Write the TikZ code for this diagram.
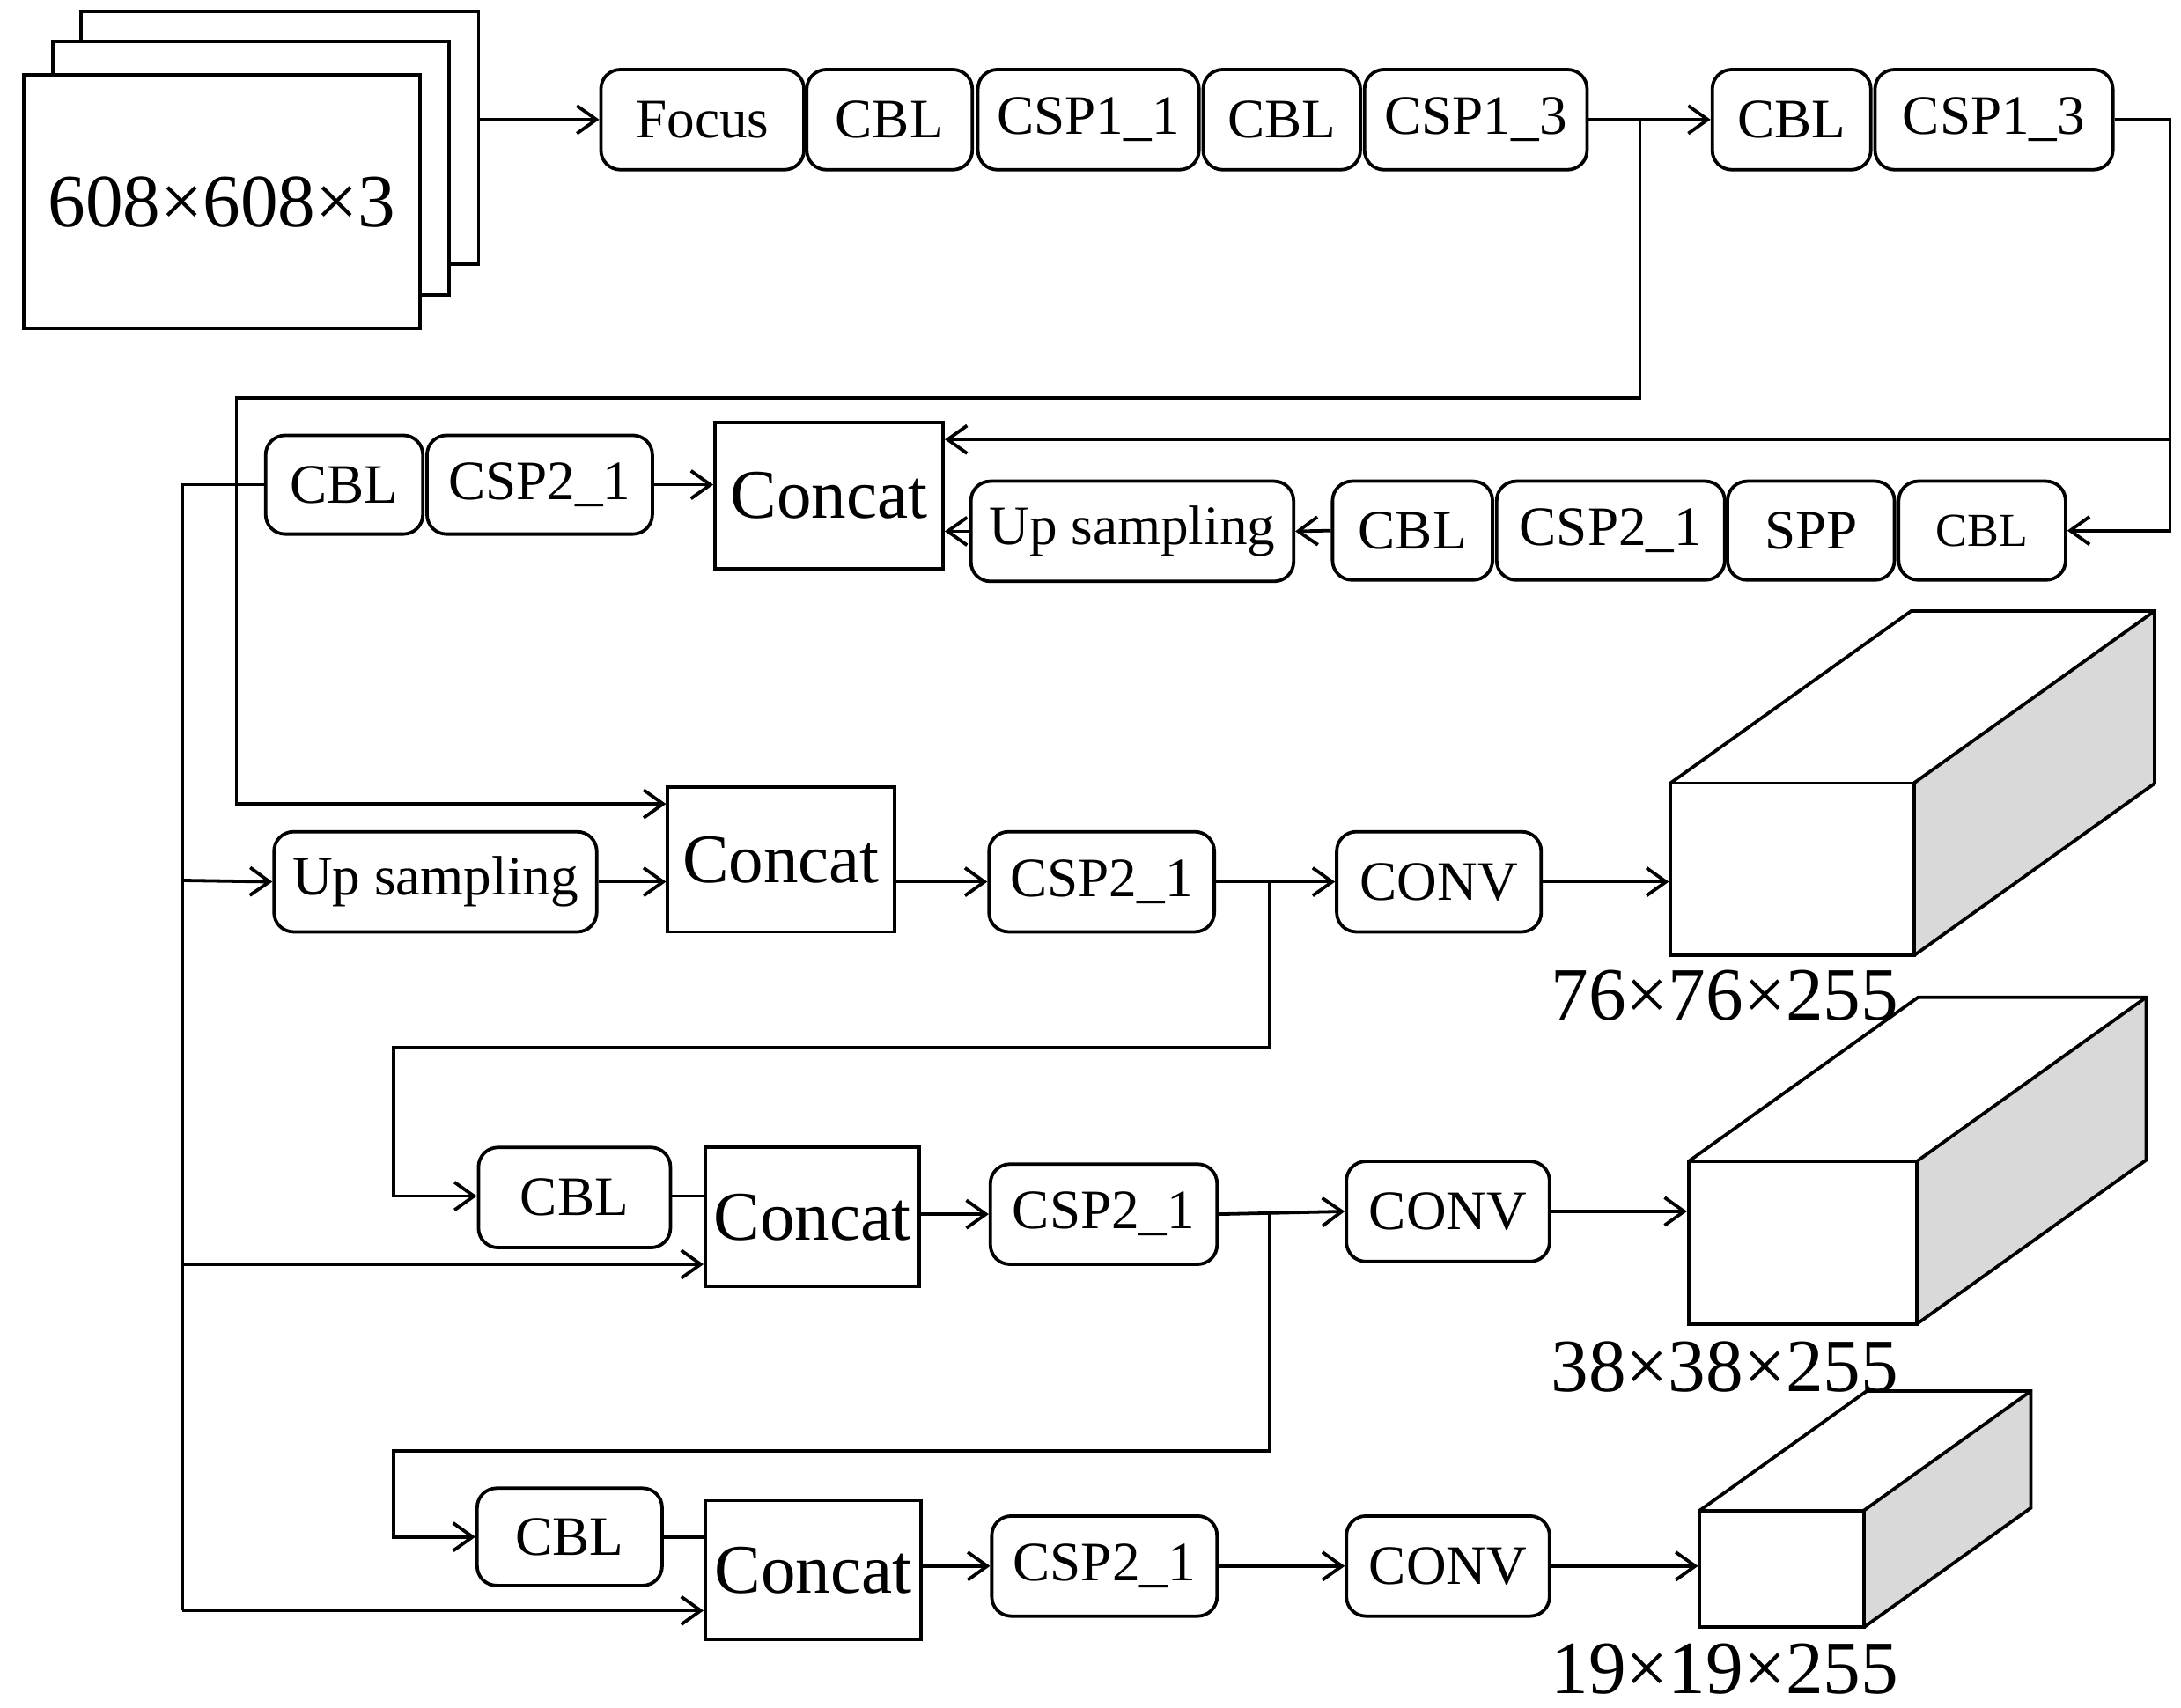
\documentclass[tikz,border=0pt]{standalone}
\usepackage{fontspec}
\setmainfont{Liberation Serif}
\usetikzlibrary{arrows.meta,calc}
\tikzset{
 x=0.5pt,y=-0.5pt,
 every path/.style={line width=1.2pt},
 rb/.style={draw,rounded corners=7pt,inner sep=0pt,font=\fontsize{20}{20}\selectfont},
 sq/.style={draw,inner sep=0pt,font=\fontsize{25}{25}\selectfont},
 arr/.style={-{Straight Barb[length=7pt,width=10pt]}},
 big/.style={font=\fontsize{27}{27}\selectfont,inner sep=0pt}
}
\newcommand{\bx}[7]{\node[#1,minimum width={(#5-#3)*0.5pt},minimum height={(#6-#4)*0.5pt}] (#2) at ({(#3+#5)/2},{(#4+#6)/2}) {#7};}
\newcommand{\cube}[6]{% name x1 y1 x2 y2 dx dy
 \fill[gray!30] (#4,#3) -- ++(#6,-#6*0.715) -- ++(0,#5-#3) -- (#4,#5) -- cycle;
 \draw (#2,#3) -- ++(#6,-#6*0.715) -- ++(#4-#2,0) -- ++(0,#5-#3) -- (#4,#5);
 \draw (#4,#3) -- ++(#6,-#6*0.715);
 \node[draw,fill=white,minimum width={(#4-#2)*0.5pt},minimum height={(#5-#3)*0.5pt}] (#1) at ({(#2+#4)/2},{(#3+#5)/2}) {};}
\begin{document}
\begin{tikzpicture}
\useasboundingbox (0,0) rectangle (1568,1228);
% input stack
\bx{draw,fill=white}{in3}{58}{8}{344}{190}{}
\bx{draw,fill=white}{in2}{38}{30}{323}{212}{}
\bx{draw,fill=white,big}{in1}{17}{54}{302}{236}{608×608×3}
% top row
\bx{rb}{focus}{432}{50}{578}{122}{Focus}
\bx{rb}{cbla}{580}{50}{699}{122}{CBL}
\bx{rb}{cspa}{703}{50}{862}{122}{CSP1\_1}
\bx{rb}{cblb}{865}{50}{978}{122}{CBL}
\bx{rb}{cspb}{981}{50}{1141}{122}{CSP1\_3}
\bx{rb}{cblc}{1231}{50}{1345}{122}{CBL}
\bx{rb}{cspc}{1348}{50}{1519}{122}{CSP1\_3}
% second row
\bx{rb,font=\fontsize{17}{17}\selectfont}{cbld}{1365}{346}{1485}{417}{CBL}
\bx{rb}{spp}{1242}{346}{1362}{417}{SPP}
\bx{rb}{cspd}{1076}{346}{1240}{417}{CSP2\_1}
\bx{rb}{cble}{958}{346}{1073}{417}{CBL}
\bx{rb}{up1}{698}{346}{930}{418}{Up sampling}
\bx{sq}{cat1}{514}{304}{678}{409}{Concat}
\bx{rb}{cblf}{191}{313}{304}{384}{CBL}
\bx{rb}{cspf}{307}{313}{469}{384}{CSP2\_1}
% third
\bx{rb}{up2}{197}{598}{429}{670}{Up sampling}
\bx{sq}{cat2}{480}{566}{643}{670}{Concat}
\bx{rb}{csp3}{711}{598}{873}{670}{CSP2\_1}
\bx{rb}{conv3}{961}{598}{1108}{670}{CONV}
% fourth
\bx{rb}{cbl4}{344}{825}{482}{897}{CBL}
\bx{sq}{cat4}{507}{825}{661}{925}{Concat}
\bx{rb}{csp4}{712}{837}{875}{909}{CSP2\_1}
\bx{rb}{conv4}{968}{835}{1114}{907}{CONV}
% fifth
\bx{rb}{cbl5}{343}{1070}{476}{1140}{CBL}
\bx{sq}{cat5}{507}{1079}{662}{1179}{Concat}
\bx{rb}{csp5}{713}{1090}{875}{1162}{CSP2\_1}
\bx{rb}{conv5}{968}{1090}{1114}{1162}{CONV}
% cubes
\cube{cb1}{1201}{563}{1376}{687}{173}
\cube{cb2}{1214}{835}{1378}{952}{165}
\cube{cb3}{1222}{1086}{1340}{1170}{120}
\node[big] (l1) at (1240,716) {76×76×255};
\node[big] (l2) at (1240,983) {38×38×255};
\node[big] (l3) at (1240,1200) {19×19×255};
% connectors
\draw[arr] (in3.east |- focus.west) -- (focus.west);
\draw[arr] (cspb.east) -- (cblc.west);
\draw[arr] (cspb.east) -| (1179,286) -| (170,578) -- (cat2.north west |- 0,578) ;
\coordinate (r1) at (1560,86);
\draw[arr] (cspc.east) -- (r1) |- (cbld.east);
\draw[arr] (1560,316) -- (cat1.east |- 0,316);
\draw[arr] (cble.west) -- (up1.east);
\draw[arr] (up1.west) -- (cat1.east |- up1.west);
\draw[arr] (cspf.east) -- (cat1.west |- cspf.east);
\coordinate (lb) at (131,1158);
\draw (cblf.west) -| (lb);
\draw[arr] (131,633) -- (up2.west);
\draw[arr] (131,909) -- (cat4.west |- 0,909);
\draw[arr] (lb) -- (cat5.west |- lb);
\draw[arr] (up2.east) -- (cat2.west |- up2.east);
\draw[arr] (cat2.east |- csp3.west) -- (csp3.west);
\draw[arr] (csp3.east) -- (conv3.west);
\draw[arr] (conv3.east) -- (cb1.west |- conv3.east);
\draw[arr] (913,633) -- (913,753) -| (283,860) -- (cbl4.west |- 0,860);
\draw (cbl4.east |- 0,860) -- (cat4.west |- 0,860);
\draw[arr] (cat4.east |- csp4.west) -- (csp4.west);
\draw[arr] (csp4.east) -- (conv4.west);
\draw[arr] (conv4.east) -- (cb2.west |- conv4.east);
\draw[arr] (913,872) -- (913,1043) -| (283,1105) -- (cbl5.west |- 0,1105);
\draw (cbl5.east |- 0,1105) -- (cat5.west |- 0,1105);
\draw[arr] (cat5.east |- csp5.west) -- (csp5.west);
\draw[arr] (csp5.east) -- (conv5.west);
\draw[arr] (conv5.east) -- (cb3.west |- conv5.east);
\end{tikzpicture}
\end{document}
